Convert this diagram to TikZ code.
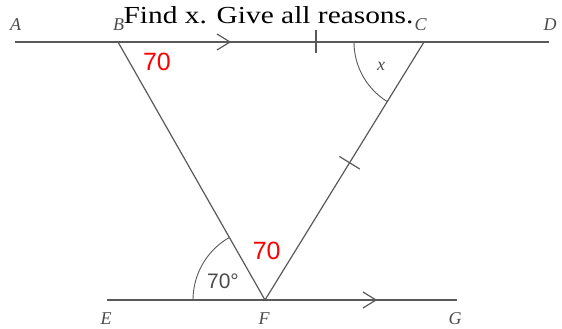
\documentclass[tikz,border=0pt]{standalone}
\usepackage{fontspec}
\setmainfont{Liberation Serif}
\newfontfamily\titlefont{Liberation Serif}[FakeStretch=1.2]
\newfontfamily\sansfont{Liberation Sans}
\usepackage{tikz}
\usetikzlibrary{calc}

\begin{document}
\begin{tikzpicture}[x=1pt,y=1pt,line width=1.2pt,
  lbl/.style={text=black!70,inner sep=1pt,font=\fontsize{18}{18}\selectfont\itshape},
  given/.style={text=red,font=\sansfont\fontsize{25}{25}\selectfont}]
\useasboundingbox (0,0) rectangle (562,329);
\coordinate (A) at (15,287);
\coordinate (B) at (118,287);
\coordinate (C) at (424,287);
\coordinate (D) at (549,287);
\coordinate (E) at (107,29);
\coordinate (F) at (265,29);
\coordinate (G) at (457,29);
\coordinate (m) at ($(C)!0.468!(F)$);

\draw[black!65] (A) -- (D);
\draw[black!65] (E) -- (G);
\draw[black!65] (B) -- (F) -- (C);
% parallel marks
\draw[black!65] ($(B)+(99,8)$) -- ($(B)+(112,0)$) -- ($(B)+(99,-8)$);
\draw[black!65] ($(F)+(98,8)$) -- ($(F)+(111,0)$) -- ($(F)+(98,-8)$);
% equal sides
\draw[black!65] ($(B)+(198,12)$) -- ($(B)+(198,-11)$);
\draw[black!65] ($(m)!12pt!90:(F)$) -- ($(m)!12pt!-90:(F)$);
% angles
\draw[black!65,line width=0.9pt] ($(C)+(180:70)$) arc[start angle=180,end angle=238.35,radius=70pt];
\draw[black!65,line width=0.9pt] ($(F)+(180:72)$) arc[start angle=180,end angle=119.67,radius=72pt];

\node[lbl] (lA) at (15.5,304.5) {A};
\node[lbl] (lB) at (118.5,304.5) {B};
\node[lbl] (lC) at (420.5,304.5) {C};
\node[lbl] (lD) at (550,304.5) {D};
\node[lbl] (lE) at (106,10) {E};
\node[lbl] (lF) at (264,10) {F};
\node[lbl] (lG) at (455,10) {G};
\node[lbl] (lx) at (381,263) {x};
\node[anchor=base west,inner sep=0pt,font=\titlefont\fontsize{24.5}{24.5}\selectfont] (title) at (123,305.7) {Find x. Give all reasons.};
\node[given] (g1) at (157,267) {70};
\node[given] (g2) at (266.7,78) {70};
\node[text=black!70,font=\sansfont\fontsize{21}{21}\selectfont] (a70) at (223,48) {70°};
\end{tikzpicture}
\end{document}
